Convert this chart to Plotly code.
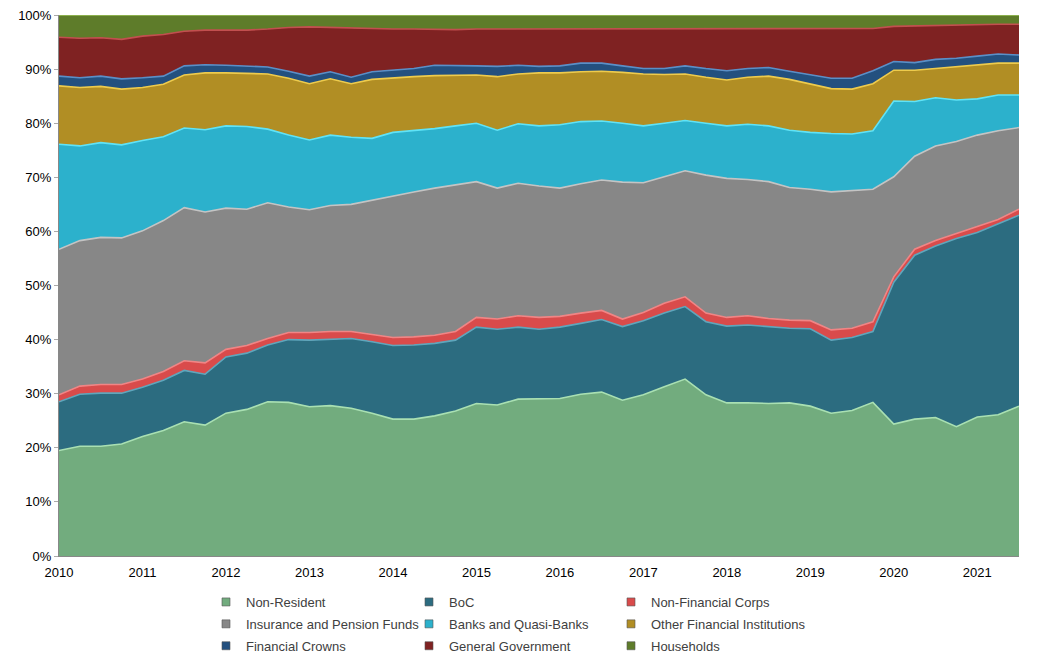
import plotly.graph_objects as go

quarters = [2010 + 0.25 * i for i in range(47)]

non_resident = [19.5, 20.3, 20.3, 20.7, 22.1, 23.2, 24.8, 24.2, 26.4, 27.1, 28.5, 28.4, 27.6, 27.8, 27.3, 26.4,
                25.3, 25.3, 25.9, 26.8, 28.2, 27.9, 29.0, 29.0, 29.1, 29.9, 30.3, 28.8, 29.8, 31.3, 32.7, 29.8,
                28.3, 28.3, 28.2, 28.3, 27.7, 26.4, 26.9, 28.4, 24.4, 25.3, 25.6, 23.9, 25.7, 26.1, 27.7]
boc = [9.0, 9.6, 9.8, 9.4, 9.1, 9.3, 9.5, 9.4, 10.4, 10.4, 10.5, 11.6, 12.3, 12.2, 12.9, 13.2,
       13.6, 13.7, 13.4, 13.1, 14.1, 14.0, 13.3, 12.9, 13.2, 13.1, 13.4, 13.6, 13.7, 13.6, 13.4, 13.5,
       14.2, 14.4, 14.2, 13.8, 14.3, 13.5, 13.5, 13.1, 26.2, 30.3, 31.7, 34.8, 34.1, 35.3, 35.3]
non_fin_corps = [1.3, 1.5, 1.6, 1.6, 1.5, 1.6, 1.8, 2.1, 1.4, 1.4, 1.2, 1.3, 1.4, 1.5, 1.3, 1.3,
                 1.5, 1.5, 1.5, 1.6, 1.8, 1.9, 2.1, 2.2, 2.0, 1.9, 1.7, 1.4, 1.5, 1.8, 1.8, 1.6,
                 1.6, 1.7, 1.5, 1.5, 1.5, 1.9, 1.7, 1.8, 1.0, 1.1, 1.0, 0.9, 1.1, 0.8, 1.1]
insurance_pension = [26.9, 26.9, 27.2, 27.1, 27.4, 27.9, 28.3, 27.9, 26.1, 25.2, 25.1, 23.2, 22.7, 23.3, 23.5, 24.9,
                     26.1, 26.8, 27.2, 27.1, 25.1, 24.2, 24.5, 24.3, 23.7, 23.9, 24.1, 25.3, 24.0, 23.4, 23.3, 25.5,
                     25.7, 25.2, 25.3, 24.5, 24.3, 25.5, 25.4, 24.5, 18.5, 17.2, 17.5, 17.0, 16.9, 16.4, 15.1]
banks_quasi = [19.4, 17.5, 17.5, 17.2, 16.7, 15.5, 14.7, 15.2, 15.2, 15.3, 13.6, 13.3, 12.9, 13.0, 12.4, 11.4,
               11.8, 11.3, 11.0, 10.9, 10.8, 10.7, 11.0, 11.1, 11.7, 11.5, 10.9, 10.9, 10.5, 9.9, 9.3, 9.6,
               9.7, 10.2, 10.3, 10.6, 10.5, 10.8, 10.5, 10.8, 14.0, 10.1, 8.9, 7.7, 6.7, 6.6, 6.0]
other_fin_inst = [10.8, 10.8, 10.4, 10.3, 9.8, 9.7, 9.8, 10.5, 9.8, 9.8, 10.2, 10.5, 10.4, 10.4, 9.9, 10.9,
                  10.1, 10.0, 9.8, 9.3, 8.9, 9.9, 9.2, 9.8, 9.6, 9.2, 9.2, 9.4, 9.6, 9.0, 8.6, 8.5,
                  8.5, 8.7, 9.2, 9.4, 8.9, 8.3, 8.3, 8.7, 5.7, 5.8, 5.4, 6.1, 6.2, 5.9, 5.9]
financial_crowns = [1.8, 1.8, 1.9, 1.9, 1.8, 1.5, 1.7, 1.5, 1.4, 1.4, 1.3, 1.3, 1.4, 1.3, 1.2, 1.4,
                    1.4, 1.5, 1.9, 1.9, 1.7, 1.9, 1.6, 1.2, 1.3, 1.6, 1.5, 1.2, 1.0, 1.1, 1.5, 1.6,
                    1.7, 1.6, 1.6, 1.5, 1.7, 1.9, 2.0, 2.4, 1.6, 1.4, 1.7, 1.6, 1.7, 1.7, 1.5]
general_gov = [7.2, 7.3, 7.1, 7.3, 7.7, 7.7, 6.4, 6.4, 6.5, 6.6, 7.0, 8.1, 9.1, 8.2, 9.0, 7.9,
               7.6, 7.3, 6.6, 6.6, 6.8, 6.9, 6.8, 7.0, 6.9, 6.4, 6.4, 6.9, 7.4, 7.4, 6.9, 7.3,
               7.7, 7.3, 7.1, 7.8, 8.5, 9.1, 9.1, 7.8, 6.5, 6.8, 6.2, 6.1, 5.8, 5.5, 5.7]
households = [4.1, 4.3, 4.2, 4.5, 3.9, 3.6, 3.0, 2.8, 2.8, 2.8, 2.6, 2.3, 2.2, 2.3, 2.5, 2.6,
              2.6, 2.6, 2.7, 2.7, 2.6, 2.6, 2.5, 2.5, 2.5, 2.5, 2.5, 2.5, 2.5, 2.5, 2.5, 2.6,
              2.6, 2.6, 2.6, 2.6, 2.6, 2.6, 2.6, 2.5, 2.1, 2.0, 2.0, 1.9, 1.8, 1.7, 1.7]

series_names = ["Non-Resident", "BoC", "Non-Financial Corps",
                "Insurance and Pension Funds", "Banks and Quasi-Banks", "Other Financial Institutions",
                "Financial Crowns", "General Government", "Households"]
series_values = [non_resident, boc, non_fin_corps, insurance_pension, banks_quasi,
                 other_fin_inst, financial_crowns, general_gov, households]
fill_colors = ["#72AC7E", "#2C6C80", "#D94B4B", "#878787", "#2CB1CC",
               "#B18E24", "#23507F", "#7F2222", "#5E7C2A"]
edge_colors = ["#A9E0B2", "#5FA6BC", "#F08585", "#C4C4C4", "#5FE3F7",
               "#EECB4C", "#5A8FC7", "#C24F4F", "#9CC25A"]
year_ticks = list(range(2010, 2022))
year_labels = [str(y) for y in year_ticks]
pct_ticks = list(range(0, 101, 10))
pct_labels = [f"{v}%" for v in pct_ticks]

fig = go.Figure()
for name, vals, fc, ec in zip(series_names, series_values, fill_colors, edge_colors):
    fig.add_trace(go.Scatter(
        x=quarters, y=vals, name=name, mode="lines",
        stackgroup="one", fillcolor=fc,
        line=dict(color=ec, width=1.6), showlegend=False,
    ))

# legend entries: three columns, row-wise ordering as in the reference
legend_ids = ["legend", "legend2", "legend3"]
for k, (name, fc) in enumerate(zip(series_names, fill_colors)):
    fig.add_trace(go.Scatter(
        x=[None], y=[None], name=name, mode="markers",
        marker=dict(symbol="square", size=8, color=fc, line=dict(color="#555555", width=0.6)),
        legend=legend_ids[k % 3], legendgroup=name, showlegend=True,
    ))

W, H = 1025, 652
L, R, T, B = 51, 14, 7, 104
pw, ph = W - L - R, H - T - B


def px_x(fx):
    return (fx - L) / pw


def px_y(fy):
    return (H - B - fy) / ph


legend_common = dict(
    orientation="v", yanchor="top", xanchor="left",
    font=dict(family="Liberation Sans, Arial, sans-serif", size=13, color="#404040"),
    bgcolor="rgba(0,0,0,0)", tracegroupgap=2, itemwidth=30,
)
legend_y = px_y(579)

fig.update_layout(
    width=W, height=H,
    margin=dict(l=L, r=R, t=T, b=B, autoexpand=False),
    paper_bgcolor="white", plot_bgcolor="white",
    font=dict(family="Liberation Sans, Arial, sans-serif", size=13, color="#000000"),
    showlegend=True,
    legend=dict(x=px_x(198), y=legend_y, **legend_common),
    legend2=dict(x=px_x(401), y=legend_y, **legend_common),
    legend3=dict(x=px_x(603), y=legend_y, **legend_common),
    xaxis=dict(
        range=[2010, 2021.5], tickmode="array", tickvals=year_ticks, ticktext=year_labels,
        showgrid=False, zeroline=False, showline=True, linecolor="#888888", linewidth=1,
        ticks="", ticklabelstandoff=4, automargin=False, ticklabeloverflow="allow",
        tickfont=dict(size=13, color="#000000"),
    ),
    yaxis=dict(
        range=[0, 100], tickmode="array", tickvals=pct_ticks, ticktext=pct_labels,
        showgrid=False, zeroline=False, showline=True, automargin=False,
        ticklabeloverflow="allow",
        linecolor="#888888", linewidth=1, ticks="outside", ticklen=4, tickcolor="#AAAAAA",
        tickfont=dict(size=13, color="#000000"),
    ),
)

fig.write_html("out.html")
